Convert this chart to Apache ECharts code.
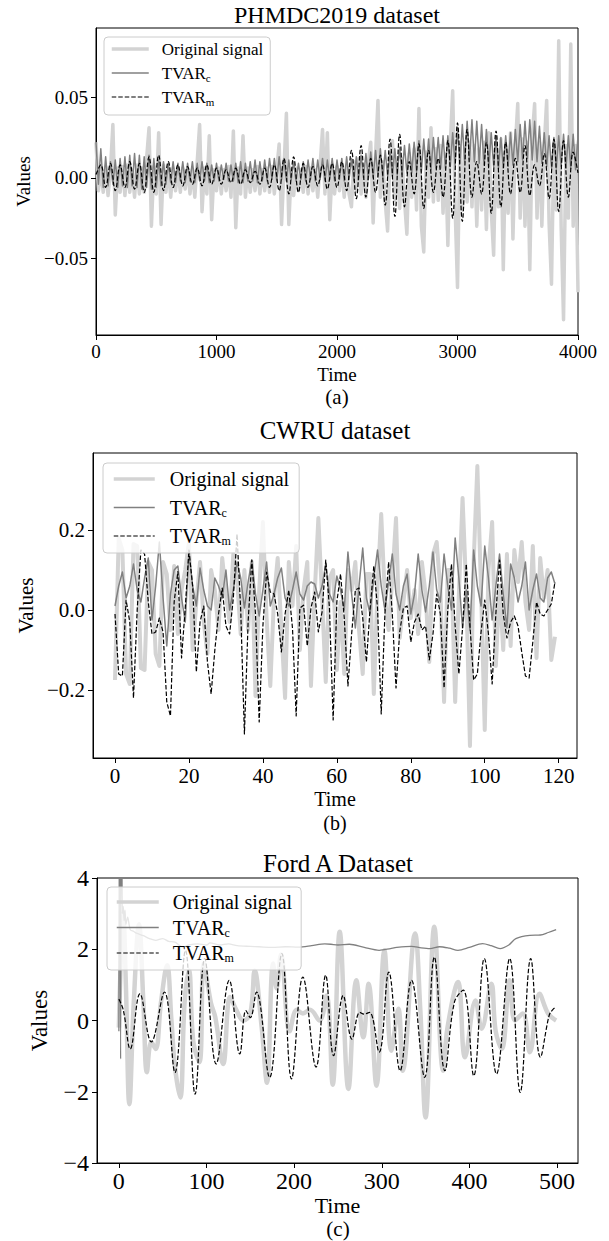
<!DOCTYPE html>
<html><head><meta charset="utf-8">
<script src="https://cdn.jsdelivr.net/npm/echarts@6/dist/echarts.min.js"></script>
<style>html,body{margin:0;padding:0;background:#fff}#c{width:609px;height:1241px}</style>
</head><body><div id="c"></div>
<script>
// ---------------- Panel (a): PHMDC2019 (sampled every 20 / 40 time units) ----------------
const phmStep = 20, phmStepM = 40;
const phmOriginal = [
.022,-.008,.006,-.009,.007,-.011,.005,.033,-.023,.006,
-.009,.007,-.011,.008,-.009,.005,-.012,.008,-.010,.006,
-.009,.012,.031,-.030,.007,-.010,.028,-.029,.008,-.009,
.005,-.012,.006,-.008,.005,-.009,.006,-.007,.006,-.010,
.005,-.012,.010,.033,-.021,.006,-.010,.026,-.026,.005,
-.008,.006,-.010,.005,-.008,.007,-.012,.029,-.031,.006,
-.010,.026,-.012,.006,-.009,.005,-.008,.007,-.010,.005,
-.008,.006,-.009,.007,-.010,.005,.021,-.029,.006,.040,
-.029,.005,-.011,.006,-.008,.005,-.009,.007,-.010,.006,
-.008,.005,-.012,.008,.030,-.010,.028,-.026,.006,-.010,
.007,-.008,.006,-.012,.008,-.010,-.018,.010,-.008,.012,
-.010,.008,-.012,.010,.022,-.028,.014,.048,-.012,.010,
-.015,-.033,.012,.023,-.014,.010,-.019,.012,-.014,-.035,
.015,-.012,.018,-.020,.043,-.030,-.046,.016,-.012,.031,
-.015,.018,-.014,.020,-.022,.015,-.042,.020,.054,-.018,
-.068,.020,-.020,.018,-.015,.022,-.018,.020,-.030,.018,
-.020,.022,-.032,.028,-.020,-.048,.022,-.018,.024,-.057,
.020,-.022,.028,-.038,.020,.046,-.025,.024,-.030,.022,
-.057,.025,.046,-.025,.022,-.030,.020,.048,-.028,-.066,
.022,-.020,.085,-.030,-.088,.020,-.025,.083,-.030,.020,
-.071];
const phmTvarC = [
.022,-.004,.018,-.006,.013,-.005,.010,-.004,.011,-.006,
.012,-.005,.013,-.006,.014,-.005,.015,-.006,.014,-.007,
.013,-.006,.014,-.007,.012,-.006,.011,-.005,.010,-.004,
.009,-.003,.010,-.003,.009,-.002,.010,-.003,.009,-.002,
.010,-.003,.009,-.002,.010,-.002,.009,-.003,.008,-.002,
.009,-.002,.008,-.001,.009,-.002,.008,-.002,.009,-.003,
.010,-.003,.009,-.002,.010,-.002,.011,-.003,.010,-.002,
.011,-.002,.012,-.001,.012,-.002,.013,-.001,.012,-.002,
.011,-.001,.010,-.002,.009,-.001,.010,-.002,.011,-.001,
.012,-.002,.011,-.001,.012,-.002,.011,-.001,.012,-.002,
.011,-.001,.012,-.002,.013,-.001,.012,-.002,.013,-.001,
.014,.000,.015,-.001,.016,.000,.017,.001,.018,.000,
.017,.001,.016,.001,.018,.002,.019,.002,.020,.003,
.021,.003,.022,.004,.023,.004,.024,.005,.024,.005,
.025,.006,.025,.006,.026,.006,.026,.007,.028,.008,
.031,.009,.033,.010,.035,.011,.036,.010,.035,.009,
.033,.008,.030,.007,.028,.007,.026,.006,.025,.006,
.026,.007,.028,.008,.030,.010,.033,.011,.035,.012,
.036,.011,.035,.010,.032,.009,.028,.007,.026,.006,
.025,.006,.026,.007,.027,.006,.026,.006,.027,.005,
.026];
const phmTvarM = [
.002,.008,-.006,.009,-.008,.008,-.006,.010,-.007,.009,
-.009,.013,-.009,.014,-.008,.010,-.006,.008,-.005,.007,
-.004,.006,-.005,.008,-.004,.006,-.004,.005,-.003,.006,
-.004,.005,-.003,.004,-.004,.006,-.006,.008,-.008,.012,
-.010,.013,-.009,.009,-.006,.007,-.005,.008,-.007,.009,
-.006,.010,-.008,.017,-.013,.020,-.012,.012,-.009,.014,
-.017,.024,-.024,.027,-.018,.010,-.010,.021,-.019,.017,
-.009,.012,-.012,.023,-.025,.034,-.027,.030,-.012,.010,
-.010,.022,-.022,.029,-.018,.022,-.010,.012,-.009,.020,
-.011,.008,-.005,.015,-.013,.024,-.021,.023,-.012,.016,
.003];
const phmXTicks = [0, 1000, 2000, 3000, 4000];
const phmYTicks = [-0.05, 0, 0.05];

// ---------------- Panel (b): CWRU (one value per time step 0..119) ----------------
const cwruOriginal = [
-.175,.18,.15,-.16,-.185,.165,.16,-.145,-.15,.12,
.10,-.11,-.14,.12,.09,-.05,.11,-.06,.05,.10,
.17,-.10,.02,.12,-.03,-.11,.10,.05,-.05,.13,
.04,-.03,.14,.08,-.06,.10,-.05,.12,-.215,.05,
.22,-.02,-.19,.03,.13,-.05,-.22,.12,.01,.16,
-.10,.05,.12,-.19,.04,.23,.03,-.18,.08,.10,
-.15,.02,-.16,.10,.05,.12,-.05,-.16,.09,.09,
-.21,.06,.24,.03,-.05,.08,.23,-.07,.02,.10,
-.02,.05,-.06,.12,.04,-.13,.14,.17,.05,-.23,
.10,.10,-.23,.04,.28,.05,-.34,.12,.36,.05,
-.30,.10,.22,-.14,.06,-.10,.14,-.09,.15,.07,
.17,.02,-.05,.16,-.12,.13,.03,.10,-.125,-.067];
const cwruTvarC = [
.01,.06,.095,.03,.06,.115,.05,.02,.08,.13,
-.025,.06,.17,.03,-.09,.04,.10,.11,.03,-.03,
.145,.06,.01,.105,.05,.01,.0,.08,.06,.03,
.10,.0,.05,.12,.08,.005,.07,.125,.04,-.015,
.05,.12,.01,.04,.08,.105,.03,.01,.05,.095,
.04,.025,.06,.07,.065,.03,.06,.115,.04,.02,
.085,.05,.0,.145,.04,-.045,.06,.155,.03,-.01,
.08,.15,.06,.0,.07,.14,.04,.0,.06,.09,
-.01,.04,.14,.05,-.005,.06,.145,.05,.02,.14,
.06,.0,.18,.08,-.045,.05,-.05,.15,.06,.01,
.16,.08,-.025,.06,.14,.04,-.045,.115,.08,.02,
.06,.12,.0,.05,.09,.03,.02,.08,.095,.065];
const cwruTvarM = [
-.01,-.16,-.165,.025,-.03,-.22,0,.15,.14,.02,
-.06,-.055,-.02,-.055,-.23,-.265,.02,.096,-.12,.005,
.15,.06,-.155,-.03,.01,-.13,-.21,-.10,-.01,.055,
-.04,-.06,.03,.19,0,-.31,-.03,.125,-.01,-.28,
-.04,.095,.045,.04,-.01,-.105,-.01,.05,-.045,-.265,
.005,.012,-.09,.005,.045,-.055,-.005,.125,.005,-.275,
.02,.09,-.02,-.19,-.06,.05,.055,-.02,-.13,.005,
.11,.005,-.26,-.01,.12,-.01,-.195,-.055,.005,.01,
-.08,-.03,-.01,-.05,-.04,-.125,-.06,.04,-.01,-.195,
0,.115,-.04,-.16,-.045,.115,-.04,-.175,-.16,-.055,
.025,-.06,-.185,-.01,.125,-.01,-.07,-.03,-.015,-.04,
-.105,-.165,-.17,-.08,.02,-.01,-.015,0,.015,.07];
const cwruXTicks = [0, 20, 40, 60, 80, 100, 120];
const cwruYTicks = [-0.2, 0, 0.2];

// ---------------- Panel (c): Ford A (read at turning points) ----------------
const fordOrigT = [0,5,8,12,17,23,28,32,37,42,48,55,60,64,70,75,80,85,92,97,105,110,119,127,134,142,150,155,163,169,176,180,185,195,203,210,218,229,237,244,252,262,271,279,285,294,303,311,319,324,338,344,350,360,370,375,387,395,407,414,425,430,437,446,452,461,469,480,490,499];
const fordOrigV = [-0.2,3.0,1.0,-2.35,0.5,2.7,0.5,-1.45,-0.6,-0.8,0.5,1.55,0.0,-1.3,-2.16,0.5,1.4,-0.6,-1.17,1.6,0.5,0.1,-1.22,0.66,0.3,0.0,0.2,1.4,-0.2,-1.75,1.6,0.9,1.85,-0.3,0.3,0.2,0.3,0.0,0.7,-1.8,2.49,-1.92,1.13,-0.47,1.03,-1.83,1.97,-0.85,0.33,-1.41,2.44,0.3,-2.72,2.63,-1.41,-0.2,1.08,-1.03,0.56,-0.23,1.03,-0.3,-0.8,1.13,0.0,0.2,-0.89,0.75,0.19,0.0];
const fordTvarcT = [0,1,2,3,4,5,6,7,8,10,13,17,20,28,35,42,50,57,64,73,80,90,100,104,115,125,135,150,160,175,190,205,220,235,242,250,263,280,297,310,317,334,345,355,366,377,387,400,415,425,435,445,453,469,481,490,499];
const fordTvarcV = [-0.3,9,-1.08,9,3.0,3.2,2.8,3.1,2.7,2.9,2.55,2.5,2.45,2.38,2.3,2.25,2.3,2.22,2.2,2.06,2.12,2.15,2.12,2.18,2.12,2.15,2.1,2.08,2.07,2.05,2.07,2.06,2.1,2.15,2.14,2.12,2.14,2.05,1.97,2.02,2.05,2.08,2.04,2.02,2.07,2.03,1.97,2.05,2.16,2.1,2.02,2.12,2.3,2.39,2.4,2.47,2.55];
const fordTvarmT = [0,5,13,24,37,52,64,76,87,98,111,126,138,145,150,157,172,186,197,210,225,236,245,256,266,275,280,286,297,308,321,334,349,360,372,383,393,405,417,431,446,458,470,481,491,495,499];
const fordTvarmV = [0.6,0.3,-0.8,0.75,-0.6,0.8,-1.46,1.97,-2.07,1.74,-1.22,1.13,-0.94,0.28,0.08,0.8,-1.6,1.88,-1.64,1.22,-1.31,1.27,-0.99,0.7,-0.52,0.23,0.18,0.23,-0.89,1.36,-1.41,1.13,-1.6,1.78,-1.41,0.52,0.85,-1.55,1.74,-1.5,1.74,-2.02,1.74,-1.03,0.14,0.3,0.38];
const fordXTicks = [0, 100, 200, 300, 400, 500];
const fordYTicks = [-4, -2, 0, 2, 4];

const seriesNames = ['Original signal', 'TVAR_c', 'TVAR_m'];

// ---------------- helpers ----------------
const FONT = '"Liberation Serif","Times New Roman",Times,serif';
const minus = s => String(s).replace('-', '\u2212');
const onGrid = (values, step) => values.map((v, i) => [i * step, v]);
const zipXY = (xs, ys) => xs.map((x, i) => [x, ys[i]]);

function xAxis(gi, min, max, ticks, fs, nameFs, gap, margin) {
  return {
    type: 'value', gridIndex: gi, min, max,
    axisLine: { show: true, onZero: false, lineStyle: { color: '#000', width: 1 } },
    axisTick: { show: true, length: 5, customValues: ticks, lineStyle: { color: '#000', width: 1 } },
    axisLabel: { customValues: ticks, margin: margin, color: '#000', fontFamily: FONT, fontSize: fs, formatter: v => minus(v) },
    splitLine: { show: false },
    name: 'Time', nameLocation: 'middle', nameGap: gap,
    nameTextStyle: { fontFamily: FONT, fontSize: nameFs, color: '#000' }
  };
}
function yAxis(gi, min, max, ticks, fs, nameFs, gap, dec) {
  return {
    type: 'value', gridIndex: gi, min, max,
    axisLine: { show: true, onZero: false, lineStyle: { color: '#000', width: 1 } },
    axisTick: { show: true, length: 5, customValues: ticks, lineStyle: { color: '#000', width: 1 } },
    axisLabel: { customValues: ticks, margin: 8, color: '#000', fontFamily: FONT, fontSize: fs,
      formatter: v => minus(dec == null ? v : Number(v).toFixed(dec)) },
    splitLine: { show: false },
    name: 'Values', nameLocation: 'middle', nameGap: gap, nameRotate: 90,
    nameTextStyle: { fontFamily: FONT, fontSize: nameFs, color: '#000' }
  };
}
function line(gi, idx, data, width, opts) {
  const styles = [
    { color: '#d3d3d3', type: 'solid' },
    { color: '#808080', type: 'solid' },
    { color: '#000000', type: [4.5, 2] }
  ][idx];
  return Object.assign({
    type: 'line', name: seriesNames[idx], xAxisIndex: gi, yAxisIndex: gi,
    data, symbol: 'none', showSymbol: false, color: styles.color,
    lineStyle: { color: styles.color, width, type: styles.type, join: 'round' },
    animation: false, silent: true, clip: true
  }, opts || {});
}
function legend(left, top, padding, itemWidth, gap, fs, lh, textPad) {
  return {
    data: seriesNames, orient: 'vertical', left, top, padding, itemWidth, itemHeight: 12, itemGap: gap,
    selectedMode: false, backgroundColor: 'rgba(255,255,255,0.8)', borderColor: '#cccccc', borderWidth: 1, borderRadius: 4,
    lineStyle: { width: 'inherit', type: 'inherit' },
    itemStyle: { color: 'rgba(0,0,0,0)', borderWidth: 0, opacity: 0 },
    formatter: n => n.startsWith('TVAR_') ? 'TVAR{s|' + n.slice(5) + '}' : n,
    textStyle: { fontFamily: FONT, fontSize: fs, lineHeight: lh, color: '#000', padding: [0, 0, 0, textPad],
      rich: { s: { fontFamily: FONT, fontSize: Math.round(fs * 0.62), lineHeight: Math.round(lh * 0.6), verticalAlign: 'bottom', color: '#000' } } }
  };
}
function label(text, x, y, fs) {
  return { type: 'text', x, y, silent: true,
    style: { text, fill: '#000', font: fs + 'px ' + FONT, fontFamily: FONT, fontSize: fs,
      textAlign: 'center', textVerticalAlign: 'middle', align: 'center', verticalAlign: 'middle' } };
}

const gridStyle = { show: true, borderColor: '#000', borderWidth: 1, backgroundColor: 'transparent', containLabel: false };

const option = {
  backgroundColor: '#ffffff',
  animation: false,
  grid: [
    Object.assign({ left: 96, top: 28, width: 482, height: 307 }, gridStyle),
    Object.assign({ left: 93, top: 453, width: 484, height: 305 }, gridStyle),
    Object.assign({ left: 97, top: 878, width: 481, height: 285 }, gridStyle)
  ],
  xAxis: [
    xAxis(0, 0, 4000, phmXTicks, 19, 19, 30, 7),
    xAxis(1, -5.95, 124.95, cwruXTicks, 21, 20, 31, 7),
    xAxis(2, -24.95, 523.95, fordXTicks, 24, 22, 31, 6)
  ],
  yAxis: [
    yAxis(0, -0.0975, 0.0929, phmYTicks, 19, 19, 63, 2),
    yAxis(1, -0.37, 0.3925, cwruYTicks, 21, 21, 54, 1),
    yAxis(2, -4, 4, fordYTicks, 24, 23, 46, null)
  ],
  legend: [
    legend(104, 37, [2, 7, 8, 6], 37, 4, 17, 20, 8),
    legend(103, 463, [5, 10, 6, 9], 41, 6.5, 20, 22, 10),
    legend(107, 887, [4, 9, 6, 8], 42, 3.5, 20, 22, 9)
  ],
  series: [
    line(0, 0, onGrid(phmOriginal, phmStep), 3.5),
    line(0, 1, onGrid(phmTvarC, phmStep), 1.5),
    line(0, 2, onGrid(phmTvarM, phmStepM), 1.2, { smooth: 0.4 }),
    line(1, 0, onGrid(cwruOriginal, 1), 4),
    line(1, 1, onGrid(cwruTvarC, 1), 1.5),
    line(1, 2, onGrid(cwruTvarM, 1), 1.2),
    line(2, 0, zipXY(fordOrigT, fordOrigV), 4.5, { smooth: 0.4 }),
    line(2, 1, zipXY(fordTvarcT, fordTvarcV), 1.3, { smooth: 0.3 }),
    line(2, 2, zipXY(fordTvarmT, fordTvarmV), 1.2, { smooth: 0.4 })
  ],
  graphic: [
    label('PHMDC2019 dataset', 337, 15, 24),
    label('(a)', 337, 397, 21),
    label('CWRU dataset', 335, 430, 25),
    label('(b)', 335, 822.5, 20),
    label('Ford A Dataset', 338, 863, 25),
    label('(c)', 338, 1229, 21)
  ]
};
const chart = echarts.init(document.getElementById('c'), null, { renderer: 'svg', width: 609, height: 1241 });
chart.setOption(option);
</script>
</body></html>
